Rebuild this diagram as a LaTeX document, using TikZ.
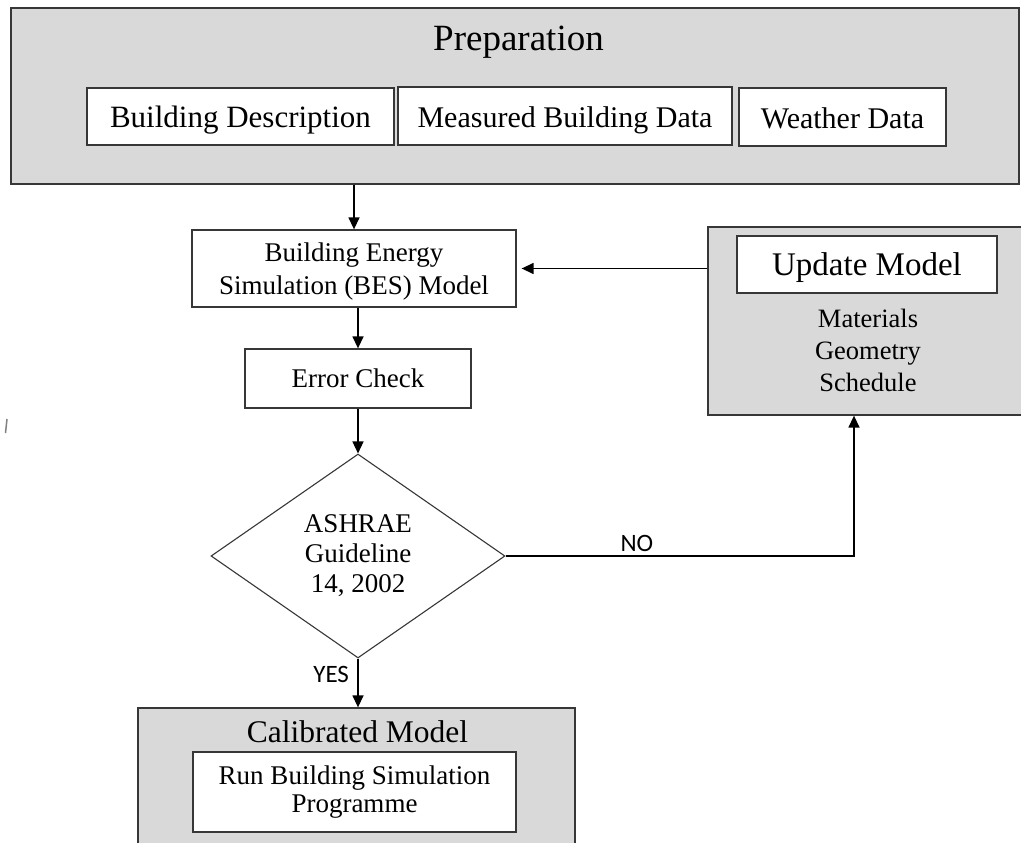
\documentclass[tikz,border=0pt]{standalone}
\usepackage{fontspec}
\setmainfont{Liberation Serif}
\newfontfamily\calfont{Carlito}
\usetikzlibrary{shapes.geometric,arrows.meta}
\definecolor{boxgray}{RGB}{217,217,217}
\definecolor{edgec}{RGB}{55,55,55}
\begin{document}
\begin{tikzpicture}[x=1pt,y=-1pt,
  outerbox/.style={draw=edgec,line width=1.3pt,fill=boxgray,rectangle,inner sep=0pt},
  inbox/.style={draw=edgec,line width=1.3pt,fill=white,rectangle,inner sep=0pt,align=center},
  arr/.style={line width=1.4pt,-{Triangle[length=12pt,width=11pt]}},
  lbl/.style={font=\calfont\fontsize{25}{30}\selectfont},
  fA/.style={font=\fontsize{30}{34}\selectfont,text height=23pt,text depth=0pt},
  fB/.style={font=\fontsize{27}{33}\selectfont,text depth=0pt},
]
\useasboundingbox (0,0) rectangle (1021,843);

% Preparation
\node[outerbox,minimum width=1008pt,minimum height=176pt] (prep) at (515,96) {};
\node[anchor=base,font=\fontsize{37}{40}\selectfont] (preptitle) at (518.5,51) {Preparation};
\node[inbox,fA,minimum width=307pt,minimum height=57pt,font=\fontsize{31}{34}\selectfont] (bdesc) at (240.5,116.5) {Building Description};
\node[inbox,fA,minimum width=334pt,minimum height=58pt] (mbd) at (565,116) {Measured Building Data};
\node[inbox,fA,minimum width=207pt,minimum height=58pt] (wd) at (842.5,117) {Weather Data};

% BES model
\node[inbox,fB,minimum width=324pt,minimum height=77pt] (bes) at (354,268.5) {Building Energy\\Simulation (BES) Model};
% Error check
\node[inbox,fB,minimum width=226pt,minimum height=59pt] (err) at (358,378.5) {Error Check};
% Decision
\node[diamond,draw=edgec,line width=1.1pt,fill=white,inner sep=0pt,minimum width=294pt,minimum height=204pt,align=center,font=\fontsize{27}{30}\selectfont] (dia) at (358,556) {ASHRAE\\Guideline\\14, 2002};

% Update model
\node[outerbox,minimum width=322pt,minimum height=188pt] (upd) at (869,321) {};
\node[inbox,minimum width=260pt,minimum height=57pt,font=\fontsize{33}{36}\selectfont,text depth=0pt] (updt) at (867,264.5) {Update Model};
\node[align=center,font=\fontsize{26.5}{32}\selectfont,inner sep=0pt] (updlist) at (868,350) {Materials\\Geometry\\Schedule};

% Calibrated model
\node[outerbox,minimum width=437pt,minimum height=152pt] (cal) at (356.5,784) {};
\node[anchor=base,font=\fontsize{31.5}{34}\selectfont] (caltitle) at (357.5,742) {Calibrated Model};
\node[inbox,minimum width=323pt,minimum height=80pt,font=\fontsize{27}{28.5}\selectfont] (run) at (354.5,792) {Run Building Simulation\\Programme};

% stray mark
\draw[line width=1.5pt,gray] (7,419) -- (5.5,433);

% connectors
\draw[arr] (prep.south -| bes.north) -- (bes.north);
\draw[arr] (err.north |- bes.south) -- (err.north);
\draw[arr] (dia.north |- err.south) -- (dia.north);
\draw[arr] (dia.south) -- node[lbl,left,pos=0.32,xshift=-5pt] {YES} (dia.south |- cal.north);
\coordinate (nocorner) at (854,556);
\draw[arr] (dia.east) -- node[lbl,above,pos=0.377] {NO} (nocorner) -- (nocorner |- upd.south);
\draw[arr,shorten >=5pt] (upd.west |- bes.east) -- (bes.east);
\end{tikzpicture}
\end{document}
